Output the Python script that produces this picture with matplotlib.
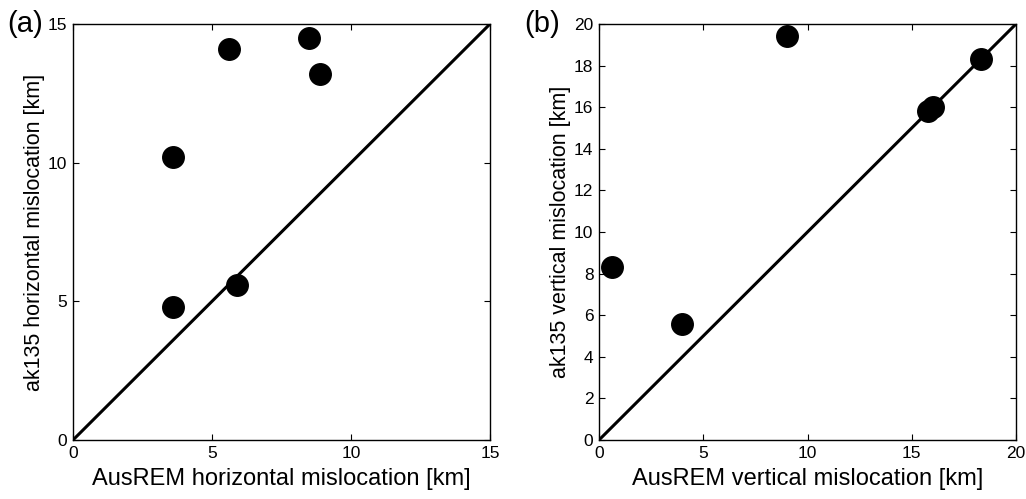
import matplotlib
matplotlib.use("Agg")
import matplotlib.pyplot as plt

plt.rcParams["font.family"] = ["Liberation Sans", "DejaVu Sans"]

# panel (a): horizontal mislocation [km]
horiz_ausrem = [3.6, 3.6, 5.6, 5.9, 8.5, 8.9]
horiz_ak135 = [10.2, 4.8, 14.1, 5.6, 14.5, 13.2]

# panel (b): vertical mislocation [km]
vert_ausrem = [0.6, 4.0, 9.0, 15.8, 16.0, 18.3]
vert_ak135 = [8.3, 5.6, 19.4, 15.8, 16.0, 18.3]

W, H = 1026, 499
fig = plt.figure(figsize=(W / 100, H / 100), dpi=100)
ax1 = fig.add_axes([73 / W, 1 - 440 / H, 417 / W, 416 / H])
ax2 = fig.add_axes([599 / W, 1 - 440 / H, 417 / W, 416 / H])


def panel(ax, x, y, lim, step, xlabel, ylabel):
    ax.plot([0, lim], [0, lim], color="black", lw=2.2, zorder=2)
    ax.plot(x, y, "o", color="black", ms=15.5, zorder=3, clip_on=False)
    ax.set_xlim(0, lim)
    ax.set_ylim(0, lim)
    ax.set_xticks(range(0, lim + 1, 5))
    ax.set_yticks(range(0, lim + 1, step))
    ax.tick_params(direction="in", length=4, width=0.8, labelsize=12.5,
                   top=True, right=True, pad=4)
    for s in ax.spines.values():
        s.set_linewidth(1.0)
    ax.set_xlabel(xlabel, fontsize=17, labelpad=5)
    ax.set_ylabel(ylabel, fontsize=15.5, labelpad=2)


panel(ax1, horiz_ausrem, horiz_ak135, 15, 5,
      "AusREM horizontal mislocation [km]", "ak135 horizontal mislocation [km]")
panel(ax2, vert_ausrem, vert_ak135, 20, 2,
      "AusREM vertical mislocation [km]", "ak135 vertical mislocation [km]")

fig.text(7 / W, 1 - 24 / H, "(a)", fontsize=21, ha="left", va="center")
fig.text(524 / W, 1 - 24 / H, "(b)", fontsize=21, ha="left", va="center")

fig.savefig("out.png", dpi=100)
